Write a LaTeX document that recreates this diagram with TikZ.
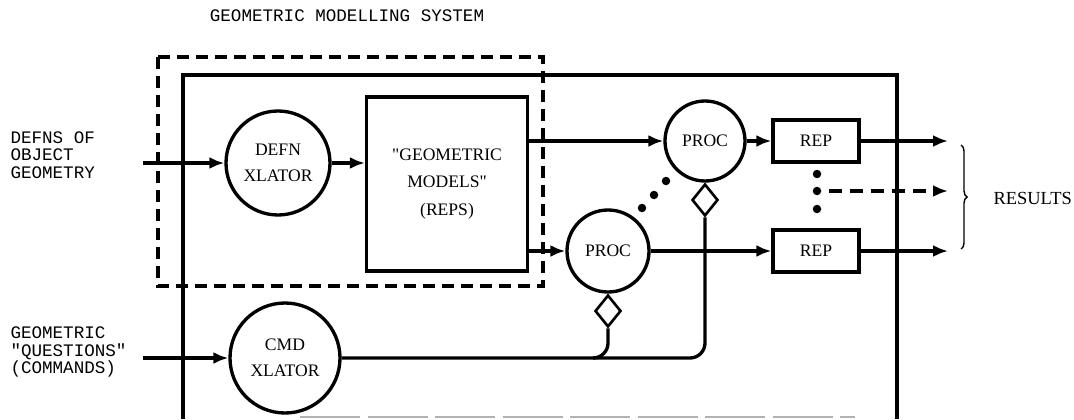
\documentclass[tikz,border=0pt]{standalone}
\usepackage{fontspec}
\setmainfont{Liberation Serif}
\setmonofont{Liberation Mono}
\usetikzlibrary{arrows.meta,shapes.geometric,positioning,decorations.pathreplacing}

\begin{document}
\begin{tikzpicture}[x=0.2mm,y=-0.2mm,line width=1.9pt,
  proc/.style={circle,draw,inner sep=0pt,align=center,font=\fontsize{10}{15}\selectfont},
  repbox/.style={rectangle,draw,minimum width=17.2mm,minimum height=8.4mm,font=\fontsize{10}{12}\selectfont},
  lbl/.style={font=\ttfamily\fontsize{10}{10}\selectfont,align=left},
  gate/.style={diamond,draw,inner sep=0pt,minimum width=5.2mm,minimum height=6.4mm,line width=1.5pt},
  arr/.style={-{Latex[length=3mm,width=2.4mm]}}]
\useasboundingbox (0,0) rectangle (1074,419);

% title and frames
\node[lbl] (title) at (347,16) {GEOMETRIC MODELLING SYSTEM};
\draw[dash pattern=on 2.4mm off 1.4mm] (158,57) rectangle (543,286);
\draw (183,419) -- (183,75) -- (897,75) -- (897,419);
\draw[gray!60,line width=0.8pt,dash pattern=on 12mm off 1.5mm] (300,417) -- (855,417);

% inputs
\node[lbl,anchor=west] (defs) at (3,155) {DEFNS OF\\OBJECT\\GEOMETRY};
\node[lbl,anchor=west] (quest) at (3,352) {GEOMETRIC\\"QUESTIONS"\\(COMMANDS)};
\coordinate (ina) at (143,163);
\coordinate (inb) at (143,358);

% translators and models
\node[proc,minimum size=20.8mm] (defn) at (278,163) {DEFN\\XLATOR};
\node[proc,minimum size=22mm] (cmd) at (285,358) {CMD\\XLATOR};
\node[draw,minimum width=32.2mm,minimum height=34.8mm,align=center,
  font=\fontsize{10}{15.5}\selectfont] (models) at (447,184)
  {\textquotedbl GEOMETRIC\\MODELS\textquotedbl\\(REPS)};

% processors and reps
\node[proc,minimum size=16mm] (proca) at (705,141) {PROC};
\node[proc,minimum size=16.4mm] (procb) at (608,251) {PROC};
\node[repbox] (repa) at (816,141) {REP};
\node[repbox] (repb) at (816,251) {REP};
\node[gate,below=0pt of proca] (gatea) {};
\node[gate,below=0pt of procb] (gateb) {};

% outputs
\coordinate (outa) at (948,141);
\coordinate (outm) at (948,191);
\coordinate (outb) at (948,251);
\coordinate (dm) at (829,191);
\node[anchor=west,font=\fontsize{10.5}{12}\selectfont] (results) at (986,198) {RESULTS};

\draw[arr] (ina) -- (defn);
\draw[arr] (inb) -- (cmd);
\draw[arr] (defn.east) -- (defn.east -| models.west);
\draw[arr] (models.east |- proca) -- (proca);
\draw[arr] (models.east |- procb) -- (procb);
\draw[arr] (proca) -- (repa);
\draw[arr] (procb) -- (repb);
\draw[arr] (repa) -- (outa);
\draw[arr] (repb) -- (outb);
\draw[arr,dash pattern=on 2.6mm off 1.6mm] (dm) -- (outm);

% command lines
\draw[rounded corners=3mm] (cmd) -- (cmd -| gatea.south) -- (gatea.south);
\draw[rounded corners=3mm] (gateb.south) -- (gateb.south |- cmd) -- ++(-15,0);

% dots
\foreach \y in {174,191,209} \fill (817,\y) circle (0.85mm);
\foreach \p in {(666,181),(654,195),(642,208)} \fill \p circle (0.85mm);

\draw[line width=0.8pt,decorate,decoration={brace,amplitude=1.2mm}] (961,145) -- (961,249);
\end{tikzpicture}
\end{document}
